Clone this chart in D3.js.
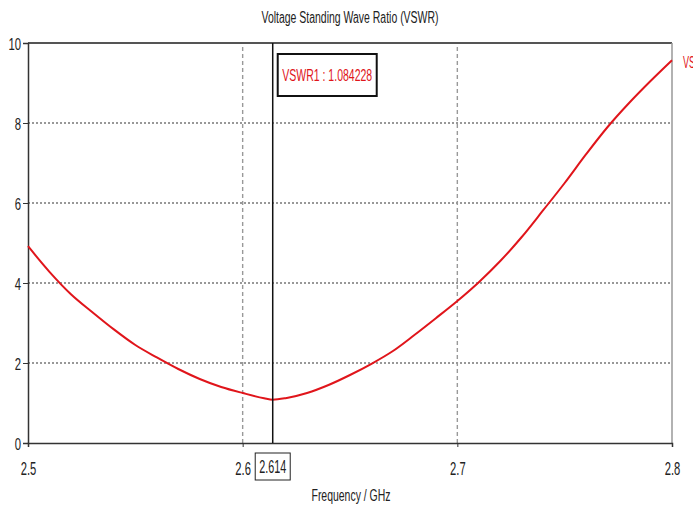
<!DOCTYPE html>
<html><head><meta charset="utf-8">
<script src="https://cdn.jsdelivr.net/npm/d3@7"></script>
<style>
html,body{margin:0;padding:0;background:#fff;overflow:hidden}
svg{display:block;font-family:"Liberation Sans",Arial,sans-serif}
</style></head>
<body>
<svg id="c" width="693" height="508"></svg>
<script>
const freq = [2.50,2.51,2.52,2.53,2.54,2.55,2.56,2.57,2.58,2.59,2.60,2.61,2.614,2.62,2.63,2.64,2.65,2.66,2.67,2.68,2.69,2.70,2.71,2.72,2.73,2.74,2.75,2.76,2.77,2.78,2.79,2.80];
const vswr = [4.92,4.28,3.72,3.27,2.84,2.45,2.14,1.85,1.60,1.40,1.25,1.12,1.084,1.12,1.25,1.45,1.70,1.98,2.30,2.70,3.12,3.55,4.02,4.55,5.15,5.82,6.50,7.22,7.90,8.50,9.05,9.57];
const xTicks = [2.5,2.6,2.7,2.8];
const yTicks = [0,2,4,6,8,10];
const markerFreq = 2.614;
const markerValue = "1.084228";
const title = "Voltage Standing Wave Ratio (VSWR)";
const xLabel = "Frequency / GHz";
const seriesName = "VSWR1";

const svg = d3.select("#c");
const x = d3.scaleLinear().domain([2.5,2.8]).range([28,672]);
const y = d3.scaleLinear().domain([0,10]).range([443,43]);
const red = "#e0151b";
const ink = "#222";

function narrow(sel, perChar){
  sel.each(function(){
    const t = d3.select(this);
    const s = t.text();
    t.attr("textLength", s.length*perChar).attr("lengthAdjust","spacingAndGlyphs");
  });
}

// horizontal dotted grid
svg.append("g").selectAll("line").data(yTicks.filter(d=>d>0&&d<10)).join("line")
  .attr("x1",x(2.5)).attr("x2",x(2.8)).attr("y1",d=>y(d)).attr("y2",d=>y(d))
  .attr("stroke","#333").attr("stroke-width",1.2).attr("stroke-dasharray","2,2");
// vertical dashed grid
svg.append("g").selectAll("line").data(xTicks.filter(d=>d>2.5&&d<2.8)).join("line")
  .attr("y1",y(0)).attr("y2",y(10)).attr("x1",d=>x(d)).attr("x2",d=>x(d))
  .attr("stroke","#999").attr("stroke-width",1.4).attr("stroke-dasharray","4,3");

// frame
svg.append("line").attr("x1",x(2.5)).attr("x2",x(2.8)).attr("y1",y(10)).attr("y2",y(10)).attr("stroke","#555").attr("stroke-width",2);
svg.append("line").attr("x1",x(2.8)).attr("x2",x(2.8)).attr("y1",y(10)).attr("y2",y(0)).attr("stroke","#999").attr("stroke-width",1.5);

// axes
const ya = svg.append("g").attr("transform",`translate(${x(2.5)},0)`)
  .call(d3.axisLeft(y).tickValues(yTicks).tickSize(5).tickFormat(d3.format("d")));
const xa = svg.append("g").attr("transform",`translate(0,${y(0)})`)
  .call(d3.axisBottom(x).tickValues(xTicks).tickSize(4).tickFormat(d=>d.toFixed(1)));
[ya,xa].forEach(a=>{
  a.select(".domain").attr("stroke","#333").attr("stroke-width",1.5);
  a.selectAll(".tick line").attr("stroke","#333");
  a.selectAll("text").attr("fill",ink).attr("font-family","inherit");
});
ya.selectAll("text").attr("font-size",17).attr("x",-7).attr("dy","0.36em");
xa.selectAll("text").attr("font-size",19).attr("dy","0.75em").attr("y",18);
narrow(ya.selectAll("text"),6.3);
narrow(xa.selectAll("text"),5.2);

// curve
svg.append("path").datum(freq.map((f,i)=>[f,vswr[i]]))
  .attr("fill","none").attr("stroke",red).attr("stroke-width",2)
  .attr("d",d3.line().x(d=>x(d[0])).y(d=>y(d[1])).curve(d3.curveMonotoneX));

// marker line
svg.append("line").attr("x1",x(markerFreq)).attr("x2",x(markerFreq)).attr("y1",y(10)).attr("y2",y(0))
  .attr("stroke","#111").attr("stroke-width",1.5);
// marker box
const bx = x(markerFreq)+5;
svg.append("rect").attr("x",bx).attr("y",54).attr("width",99).attr("height",42)
  .attr("fill","#fff").attr("stroke","#111").attr("stroke-width",2);
svg.append("text").attr("x",bx+49.5).attr("y",81).attr("text-anchor","middle")
  .attr("font-size",17).attr("fill",red).attr("textLength",90).attr("lengthAdjust","spacingAndGlyphs")
  .text(`${seriesName} : ${markerValue}`);
// x marker label
svg.append("rect").attr("x",x(markerFreq)-17.5).attr("y",453).attr("width",35).attr("height",27)
  .attr("fill","#fff").attr("stroke","#222").attr("stroke-width",1);
svg.append("text").attr("x",x(markerFreq)).attr("y",473).attr("text-anchor","middle")
  .attr("font-size",19).attr("fill",ink).attr("textLength",27).attr("lengthAdjust","spacingAndGlyphs")
  .text(String(markerFreq));

// title & label
svg.append("text").attr("x",350).attr("y",23).attr("text-anchor","middle").attr("font-size",16).attr("fill",ink)
  .attr("textLength",177).attr("lengthAdjust","spacingAndGlyphs").text(title);
svg.append("text").attr("x",351).attr("y",501).attr("text-anchor","middle").attr("font-size",17).attr("fill",ink)
  .attr("textLength",79).attr("lengthAdjust","spacingAndGlyphs").text(xLabel);
// series label at right (clipped by the page edge, as in the reference)
svg.append("text").attr("x",683).attr("y",68).attr("font-size",17).attr("fill",red)
  .attr("textLength",32).attr("lengthAdjust","spacingAndGlyphs").text(seriesName);
</script>
</body></html>
